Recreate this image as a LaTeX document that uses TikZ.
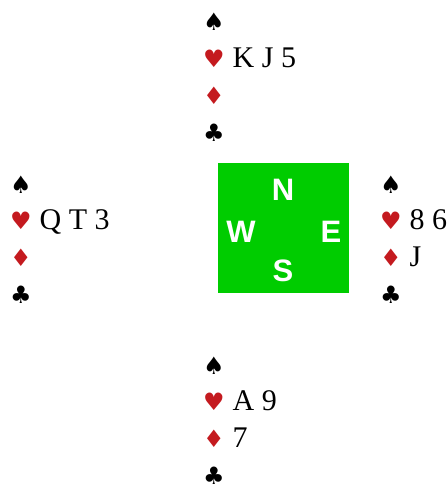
\documentclass[tikz,border=0pt]{standalone}
\usepackage{fontspec}
\setmainfont{Liberation Serif}
\newfontfamily\suitfont{DejaVu Sans}
\newfontfamily\compassfont{Liberation Sans}
\usetikzlibrary{positioning}
\definecolor{tableGreen}{HTML}{00CC00}
\definecolor{suitRed}{HTML}{C41A1F}

\newcommand{\spd}{{\suitfont\fontsize{24}{30}\selectfont ♠}}
\newcommand{\hrt}{{\suitfont\fontsize{24}{30}\selectfont\color{suitRed}♥}}
\newcommand{\dmd}{{\suitfont\fontsize{24}{30}\selectfont\color{suitRed}♦}}
\newcommand{\clb}{{\suitfont\fontsize{24}{30}\selectfont ♣}}

\begin{document}
\begin{tikzpicture}[
    x=1pt, y=-1pt,
    row/.style={anchor=base west, inner sep=0pt, font=\fontsize{30}{34}\selectfont},
    dir/.style={text=white, inner sep=0pt, text height=22pt, text depth=0pt,
        font=\compassfont\bfseries\fontsize{31}{34}\selectfont},
    table/.style={fill=tableGreen, draw=none, minimum width=131pt, minimum height=130pt,
        inner sep=0pt, anchor=north west}
]
    \useasboundingbox (0,0) rectangle (447,484);

    % table
    \node[table] (tbl) at (218,163) {};
    \node[dir] (dn) at (283,189) {N};
    \node[dir] (dw) at (241,231) {W};
    \node[dir] (de) at (331,231) {E};
    \node[dir] (ds) at (283,270) {S};

    % hands
    \foreach \hand/\x/\y/\sp/\he/\di/\cl in {
        north/203/31/{}/{K J 5}/{}/{},
        west/10/193/{}/{Q T 3}/{}/{},
        east/380/193/{}/{8 6}/{J}/{},
        south/203/374/{}/{A 9}/{7}/{}} {
        \node[row] (\hand s) at (\x,\y) {\spd\hspace{8pt}\sp};
        \node[row] (\hand h) at (\x,\y+36.7) {\hrt\hspace{8pt}\he};
        \node[row] (\hand d) at (\x,\y+73.4) {\dmd\hspace{8pt}\di};
        \node[row] (\hand c) at (\x,\y+110.1) {\clb\hspace{8pt}\cl};
    }
\end{tikzpicture}
\end{document}
